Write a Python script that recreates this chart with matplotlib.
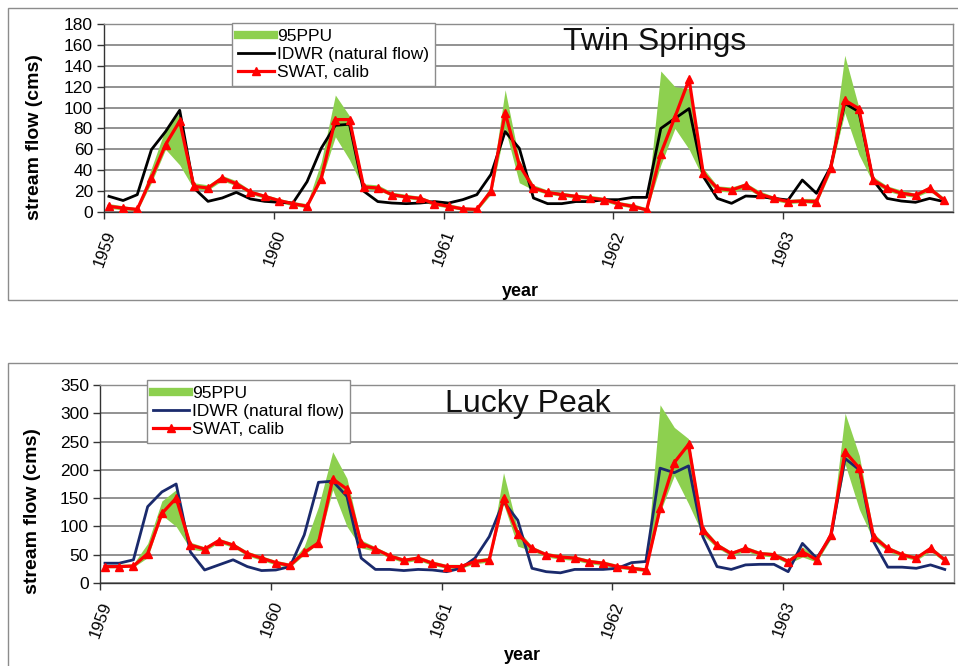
import matplotlib
matplotlib.use("Agg")
import matplotlib.pyplot as plt
from matplotlib.lines import Line2D
from matplotlib.patches import Rectangle
from matplotlib import font_manager
import matplotlib.transforms as mtransforms
import numpy as np

# ---------------- data ----------------
years = [1959, 1960, 1961, 1962, 1963]
month_index = list(range(60))

# Twin Springs
ts_swat = [5.4, 3.8, 2.5, 32.6, 64.5, 87, 24.6, 23, 32.6, 27, 19, 15,
           11, 8, 5.5, 32, 88.5, 88.5, 24, 23, 16.6, 14.4, 13, 8,
           5.4, 3, 2.5, 20, 95, 45, 23, 18.8, 16.6, 15, 13.4, 11.8,
           8, 5.4, 2, 56, 91, 127, 37, 22.6, 21, 25.8, 17, 13,
           10, 10.5, 10, 42, 107, 99, 30.6, 22.6, 18, 16, 22.6, 11.5]
ts_idwr = [15, 11, 16.6, 59.7, 77, 97.4, 23, 10.2, 13.4, 18.8, 12.5, 10.2,
           9.3, 8.6, 29, 61, 83, 84, 20, 10, 8.6, 8, 8.6, 10,
           8.6, 11.8, 16.6, 36, 77, 61, 13.4, 8, 8, 10, 10, 11.8,
           11.8, 14, 14, 80, 89.6, 99, 34, 13, 8.3, 15.3, 14.7, 13,
           11.5, 30.6, 17.9, 43, 104, 96, 30.6, 13, 10.5, 9.3, 13, 10]
ts_ppu_lo = [3.5, 2, 1, 28, 60, 45, 22, 21, 30, 25, 17, 13,
             9, 6, 4, 30, 72, 50, 22, 21, 15, 13, 11, 6,
             4, 1.5, 1, 17, 80, 28, 21, 17, 15, 13, 12, 10,
             6, 4, 1, 45, 80, 60, 32, 20, 19, 23, 15, 11,
             8, 9, 8, 38, 95, 55, 28, 20, 16, 14, 20, 10]
ts_ppu_hi = [8, 6, 4, 42, 80, 95, 28, 26, 35, 30, 21, 17,
             13, 10, 8, 48, 112, 92, 27, 26, 19, 17, 15, 10,
             8, 5, 4, 25, 117, 50, 26, 21, 19, 17, 16, 14,
             10, 8, 4, 135, 120, 118, 42, 25, 24, 28, 20, 15,
             12, 13, 13, 46, 150, 100, 34, 25, 21, 18, 25, 14]

# Lucky Peak
lp_swat = [29, 29, 30, 52, 123, 150, 67, 60, 75, 67, 52, 44,
           36, 31, 54, 71, 184, 166, 70, 60, 48, 40, 44, 35,
           29, 29, 38, 41, 150, 87, 61, 50, 46, 44, 38, 35,
           29, 26, 23, 132, 213, 245, 94, 67, 52, 61, 52, 50,
           38, 55, 41, 85, 232, 203, 82, 61, 50, 44, 61, 41]
lp_idwr = [35, 35, 41, 135, 161, 175, 55, 23, 32, 41, 29, 22,
           23, 29, 85, 178, 180, 153, 44, 24, 24, 22, 24, 23,
           20, 26, 44, 82, 144, 111, 26, 20, 18, 24, 24, 24,
           26, 36, 38, 203, 195, 207, 82, 29, 24, 32, 33, 33,
           20, 70, 44, 82, 220, 200, 73, 28, 28, 26, 32, 24]
lp_ppu_lo = [27, 27, 28, 45, 120, 100, 60, 56, 71, 63, 48, 40,
             32, 28, 50, 70, 165, 100, 62, 56, 44, 36, 40, 31,
             26, 26, 34, 37, 140, 65, 57, 46, 42, 40, 34, 31,
             26, 23, 20, 125, 190, 140, 85, 62, 48, 56, 48, 46,
             34, 46, 37, 78, 210, 130, 75, 56, 46, 40, 56, 37]
lp_ppu_hi = [33, 33, 34, 70, 145, 165, 72, 64, 79, 71, 56, 48,
             40, 35, 65, 135, 232, 185, 76, 64, 52, 44, 48, 39,
             33, 33, 42, 46, 195, 95, 65, 54, 50, 48, 42, 39,
             33, 30, 27, 315, 275, 255, 100, 71, 56, 65, 56, 54,
             42, 64, 45, 90, 300, 225, 88, 65, 54, 48, 65, 45]

# ---------------- style ----------------
W, H = 958, 666
names = {f.name for f in font_manager.fontManager.ttflist}
BASE = "Liberation Sans" if "Liberation Sans" in names else "DejaVu Sans"
NARROW = "Liberation Sans Narrow" if "Liberation Sans Narrow" in names else BASE
plt.rcParams["font.family"] = [BASE, "DejaVu Sans"]

GREEN = "#8dd04f"
RED = "#ff0000"
GRID = "#747474"

fig = plt.figure(figsize=(W / 100, H / 100), dpi=100)
fig.patch.set_facecolor("white")


def fx(px):
    return px / W


def fy(py):
    return 1 - py / H


# panel borders
fig.patches.append(Rectangle((fx(8), fy(300)), fx(1000), (300 - 8) / H,
                             transform=fig.transFigure, fill=False,
                             edgecolor="#8c8c8c", lw=1.0))
fig.patches.append(Rectangle((fx(8), fy(700)), fx(1000), (700 - 363) / H,
                             transform=fig.transFigure, fill=False,
                             edgecolor="#8c8c8c", lw=1.0))

x = 1959 + (np.array(month_index) + 0.35) / 12.0


def panel(rect, swat, idwr, lo, hi, ymax, ystep, title, title_xy, idwr_color,
          leg_xy, ylab_xy, year_xy):
    ax = fig.add_axes(rect)
    ax.set_xlim(1959, 1964)
    ax.set_ylim(0, ymax)
    ax.set_yticks(np.arange(0, ymax + 1, ystep))
    ax.set_xticks(years)
    ax.set_xticklabels([])
    # rotated year labels, anchored at their upper end just right of the tick
    trans = mtransforms.blended_transform_factory(ax.transData, ax.transAxes)
    trans = trans + mtransforms.ScaledTranslation(7 / 100, -19 / 100,
                                                  fig.dpi_scale_trans)
    for yr in years:
        ax.text(yr, 0, str(yr), transform=trans, rotation=70,
                rotation_mode="anchor", ha="right", va="center",
                fontsize=12, family=NARROW, clip_on=False)
    for lab in ax.get_yticklabels():
        lab.set_fontsize(12.5)
        lab.set_family(NARROW)
    ax.tick_params(axis="y", length=5, width=1, color="#333333", pad=3)
    ax.tick_params(axis="x", length=5, width=1, color="#333333", pad=10)
    ax.yaxis.grid(True, color=GRID, lw=1.1, zorder=0)
    ax.set_axisbelow(True)
    for s in ["top", "right"]:
        ax.spines[s].set_color("#8c8c8c")
        ax.spines[s].set_linewidth(1.0)
    for s in ["left", "bottom"]:
        ax.spines[s].set_color("#333333")
        ax.spines[s].set_linewidth(1.0)

    ax.fill_between(x, lo, hi, color=GREEN, lw=0, zorder=2)
    ax.plot(x, idwr, color=idwr_color, lw=2.0, zorder=3)
    ax.plot(x, swat, color=RED, lw=2.3, marker="^", ms=6,
            markeredgecolor=RED, zorder=4)

    fig.text(fx(title_xy[0]), fy(title_xy[1]), title, fontsize=23,
             ha="center", va="baseline", color="#111111")

    handles = [Line2D([0], [0], color=GREEN, lw=6),
               Line2D([0], [0], color=idwr_color, lw=2.0),
               Line2D([0], [0], color=RED, lw=2.3, marker="^", ms=6)]
    labels = ["95PPU", "IDWR (natural flow)", "SWAT, calib"]
    leg = ax.legend(handles, labels, loc="upper left",
                    bbox_to_anchor=(fx(leg_xy[0]), fy(leg_xy[1])),
                    bbox_transform=fig.transFigure, borderaxespad=0,
                    fontsize=12.5, frameon=True, fancybox=False,
                    framealpha=1, edgecolor="#8c8c8c", handlelength=2.1,
                    handletextpad=0.2, labelspacing=0.18, borderpad=0.32,
                    numpoints=1)
    leg.get_frame().set_linewidth(1.0)
    leg.set_zorder(10)

    fig.text(fx(ylab_xy[0]), fy(ylab_xy[1]), "stream flow (cms)",
             rotation=90, fontsize=14, fontweight="bold",
             ha="center", va="center")
    fig.text(fx(year_xy[0]), fy(year_xy[1]), "year", fontsize=13,
             fontweight="bold", ha="center", va="center")
    return ax


panel([fx(104), fy(212), fx(953 - 104), (212 - 24) / H],
      ts_swat, ts_idwr, ts_ppu_lo, ts_ppu_hi, 180, 20,
      "Twin Springs", (655, 50), "#000000",
      (232, 23), (35, 137), (520, 291))

panel([fx(100), fy(583), fx(954 - 100), (583 - 385) / H],
      lp_swat, lp_idwr, lp_ppu_lo, lp_ppu_hi, 350, 50,
      "Lucky Peak", (528, 412), "#1a2a6c",
      (147, 380), (33, 511), (522, 656))

fig.savefig("out.png", dpi=100, facecolor="white")
